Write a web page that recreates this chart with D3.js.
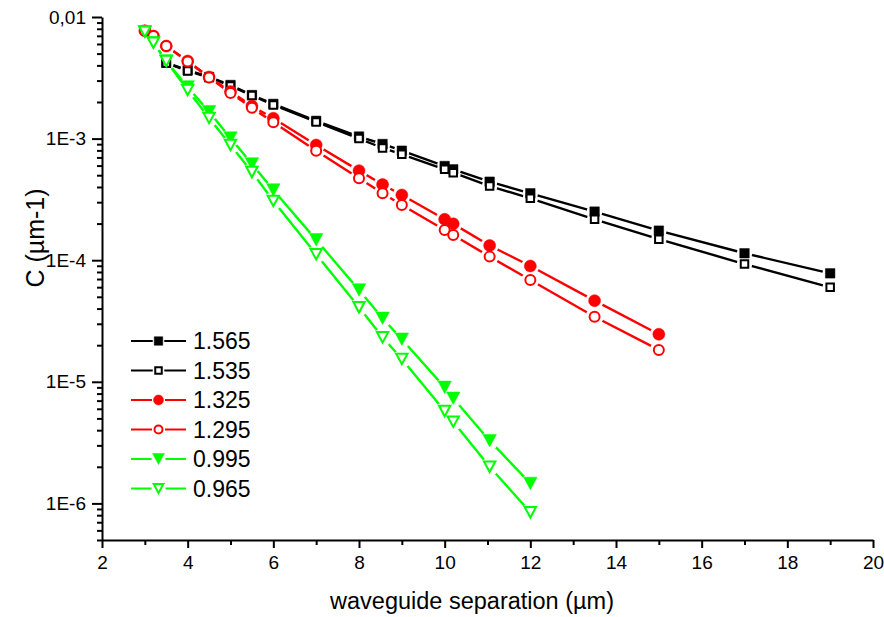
<!DOCTYPE html>
<html><head><meta charset="utf-8">
<script src="https://cdn.jsdelivr.net/npm/d3@7"></script>
<style>
body{margin:0;background:#fff}
svg{display:block}
text{font-family:"Liberation Sans",Arial,sans-serif;fill:#000}
</style>
</head><body>
<svg id="chart" width="884" height="617"></svg>
<script>
// ---------- data ----------
const seriesNames = ["1.565","1.535","1.325","1.295","0.995","0.965"];
const sepBlack = [3.5,4,4.5,5,5.5,6,7,8,8.55,9,10,10.2,11.05,12,13.5,15,17,19];
const c1565 = [4.21e-3,3.66e-3,3.21e-3,2.76e-3,2.28e-3,1.93e-3,1.40e-3,1.04e-3,9.03e-4,7.95e-4,5.95e-4,5.59e-4,4.42e-4,3.55e-4,2.51e-4,1.75e-4,1.14e-4,7.8e-5];
const c1535 = [4.18e-3,3.60e-3,3.18e-3,2.71e-3,2.26e-3,1.89e-3,1.37e-3,1.00e-3,8.37e-4,7.43e-4,5.59e-4,5.25e-4,4.07e-4,3.23e-4,2.17e-4,1.49e-4,9.3e-5,5.98e-5];
const sepRed = [3,3.2,3.5,4,4.5,5,5.5,6,7,8,8.55,9,10,10.2,11.05,12,13.5,15];
const c1325 = [7.71e-3,6.98e-3,5.77e-3,4.35e-3,3.21e-3,2.44e-3,1.85e-3,1.47e-3,8.86e-4,5.45e-4,4.19e-4,3.44e-4,2.17e-4,1.99e-4,1.32e-4,8.96e-5,4.65e-5,2.46e-5];
const c1295 = [7.71e-3,6.98e-3,5.77e-3,4.31e-3,3.18e-3,2.37e-3,1.79e-3,1.36e-3,7.95e-4,4.71e-4,3.55e-4,2.84e-4,1.77e-4,1.61e-4,1.07e-4,6.87e-5,3.43e-5,1.83e-5];
const sepGreen = [3,3.2,3.5,4,4.5,5,5.5,6,7,8,8.55,9,10,10.2,11.05,12];
const c0995 = [7.57e-3,6.15e-3,4.35e-3,2.66e-3,1.66e-3,1.01e-3,6.18e-4,3.78e-4,1.47e-4,5.69e-5,3.33e-5,2.24e-5,9.0e-6,7.32e-6,3.28e-6,1.46e-6];
const c0965 = [7.57e-3,6.15e-3,4.35e-3,2.51e-3,1.48e-3,8.86e-4,5.31e-4,3.07e-4,1.12e-4,4.10e-5,2.32e-5,1.54e-5,5.75e-6,4.70e-6,2.00e-6,8.45e-7];
const xTickValues = [2,4,6,8,10,12,14,16,18,20];
const yTickValues = [1e-2,1e-3,1e-4,1e-5,1e-6];
const yTickLabels = ["0,01","1E-3","1E-4","1E-5","1E-6"];
const xTitle = "waveguide separation (\u00b5m)";
const yTitle = "C (\u00b5m-1)";

// ---------- setup ----------
const seriesX = [sepBlack,sepBlack,sepRed,sepRed,sepGreen,sepGreen];
const seriesY = [c1565,c1535,c1325,c1295,c0995,c0965];
const colors = ["#000000","#000000","#ff0000","#ff0000","#00ff00","#00ff00"];
const shapes = ["square","square","circle","circle","tri","tri"];
const filled = [true,false,true,false,true,false];

const svg = d3.select("#chart");
const x = d3.scaleLinear().domain([2,20]).range([102,873]);
const y = d3.scaleLog().domain([5e-7,1e-2]).range([540,17]);

function markerPath(shape, s){
  if(shape==="square") return `M${-s/2},${-s/2}H${s/2}V${s/2}H${-s/2}Z`;
  if(shape==="circle"){ const r=s/2; return `M${r},0A${r},${r} 0 1,1 ${-r},0A${r},${r} 0 1,1 ${r},0Z`; }
  const w=s*1.08, h=s; return `M${-w/2},${-h/2}H${w/2}L0,${h/2}Z`;
}
const plotSize = {square:9.5, circle:12, tri:12.5};
const legSize = {square:8.5, circle:10, tri:11};

// ---------- axes ----------
const minorX = d3.range(3,20,2);
const gx = svg.append("g").attr("transform","translate(0,540)");
gx.call(d3.axisBottom(x).tickValues(minorX).tickSize(5).tickSizeOuter(0).tickFormat(""));
gx.call(g=>g.selectAll("path.domain").remove());
const gx2 = svg.append("g").attr("transform","translate(0,540)")
  .call(d3.axisBottom(x).tickValues(xTickValues).tickSize(8).tickSizeOuter(0).tickPadding(8).tickFormat(d3.format("d")));
gx2.selectAll("text").style("font-size","19px").style("font-family","'Liberation Sans',Arial,sans-serif");

const minorY = [];
for(let e=-7;e<=-3;e++){ for(let m=2;m<=9;m++){ const v=m*Math.pow(10,e); if(v>=5e-7 && v<1e-2) minorY.push(v);} }
const gy = svg.append("g").attr("transform","translate(102,0)");
gy.call(d3.axisLeft(y).tickValues(minorY).tickSize(5).tickSizeOuter(0).tickFormat(""));
gy.call(g=>g.selectAll("path.domain").remove());
const gy2 = svg.append("g").attr("transform","translate(102,0)")
  .call(d3.axisLeft(y).tickValues(yTickValues).tickSize(10).tickSizeOuter(0).tickPadding(6).tickFormat((d,i)=>yTickLabels[i]));
gy2.selectAll("text").style("font-size","19px").style("font-family","'Liberation Sans',Arial,sans-serif");

svg.selectAll(".tick line").attr("stroke","#000").attr("stroke-width",2);
svg.selectAll("path.domain").attr("stroke","#000").attr("stroke-width",2);

svg.append("text").attr("x",472).attr("y",609).attr("text-anchor","middle")
  .style("font-size","23.5px").text(xTitle);
svg.append("text").attr("transform","translate(44,238) rotate(-90)").attr("text-anchor","middle")
  .style("font-size","25px").text(yTitle);

// ---------- series ----------
const defs = svg.append("defs");
const line = d3.line();
seriesNames.forEach((name,i)=>{
  const pts = seriesX[i].map((xv,j)=>[x(xv), y(seriesY[i][j])]);
  const sz = plotSize[shapes[i]];
  const m = defs.append("mask").attr("id","m"+i).attr("maskUnits","userSpaceOnUse")
    .attr("x",0).attr("y",0).attr("width",884).attr("height",617);
  m.append("rect").attr("width",884).attr("height",617).attr("fill","#fff");
  m.selectAll("circle").data(pts).enter().append("circle")
    .attr("cx",d=>d[0]).attr("cy",d=>d[1]).attr("r",sz/2+3).attr("fill","#000");
  const g = svg.append("g");
  g.append("path").attr("d",line(pts)).attr("fill","none").attr("stroke",colors[i])
    .attr("stroke-width",2.4).attr("mask",`url(#m${i})`);
  g.selectAll("path.mk").data(pts).enter().append("path").attr("class","mk")
    .attr("transform",d=>`translate(${d[0]},${d[1]})`)
    .attr("d",markerPath(shapes[i], filled[i]?sz:sz-2))
    .attr("fill",filled[i]?colors[i]:"#fff")
    .attr("stroke",colors[i]).attr("stroke-width",filled[i]?0.5:2);
});

// ---------- legend ----------
const legY0 = 341, legDy = 29.5;
seriesNames.forEach((name,i)=>{
  const ly = legY0 + i*legDy;
  const sz = legSize[shapes[i]];
  const g = svg.append("g");
  g.append("line").attr("x1",131).attr("x2",158.5-sz/2-1.5).attr("y1",ly).attr("y2",ly)
    .attr("stroke",colors[i]).attr("stroke-width",2);
  g.append("line").attr("x1",158.5+sz/2+1.5).attr("x2",186).attr("y1",ly).attr("y2",ly)
    .attr("stroke",colors[i]).attr("stroke-width",2);
  g.append("path").attr("transform",`translate(158.5,${ly})`)
    .attr("d",markerPath(shapes[i], filled[i]?sz:sz-2))
    .attr("fill",filled[i]?colors[i]:"#fff")
    .attr("stroke",colors[i]).attr("stroke-width",filled[i]?0.5:2);
  g.append("text").attr("x",193).attr("y",ly+8.3).style("font-size","23px").text(name);
});
</script>
</body></html>
